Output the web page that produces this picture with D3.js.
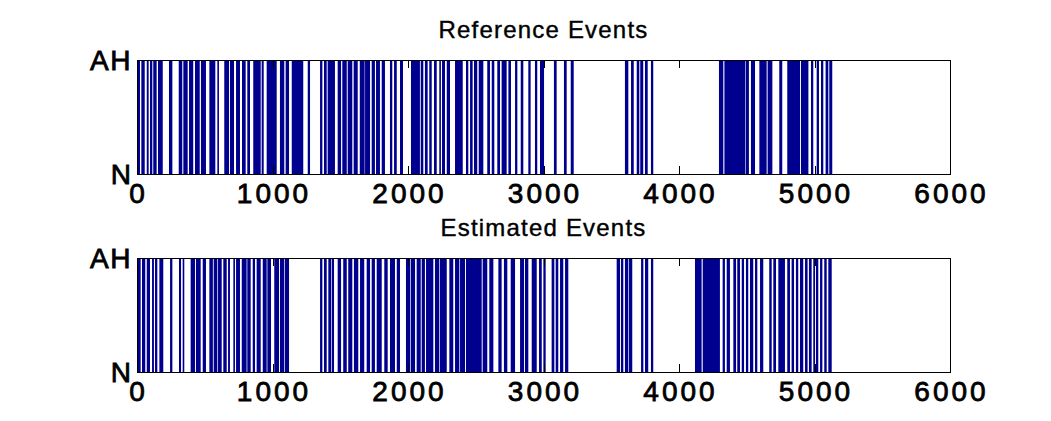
<!DOCTYPE html>
<html><head><meta charset="utf-8">
<script src="https://cdn.jsdelivr.net/npm/d3@7"></script>
<style>body{margin:0;background:#fff}svg{display:block}</style>
</head><body>
<script>
// Reference events: AH episodes [start, end] in samples
const refStart = [0,32,72,96,120,155,236,308,342,384,428,472,534,593,644,686,731,775,814,858,920,957,1055,1097,1142,1260,1351,1380,1407,1481,1515,1555,1599,1644,1683,1732,1764,1806,1867,1897,1941,2022,2094,2125,2157,2192,2231,2251,2286,2347,2428,2458,2487,2522,2585,2618,2659,2691,2741,2790,2832,2888,2937,2974,3077,3151,3201,3601,3646,3688,3714,3749,3793,4295,4335,4494,4531,4593,4654,4740,4799,4900,4974,5016,5048,5082,5109];
const refEnd   = [22,57,86,113,145,190,261,334,374,415,463,509,578,605,679,716,760,802,834,913,935,1031,1087,1122,1227,1277,1368,1400,1461,1506,1548,1589,1629,1680,1720,1756,1793,1830,1884,1917,1963,2088,2113,2145,2175,2212,2243,2273,2310,2404,2445,2477,2511,2556,2605,2637,2679,2728,2760,2807,2851,2905,2954,3004,3097,3171,3223,3626,3666,3707,3736,3769,3810,4327,4490,4516,4561,4647,4689,4762,4893,4955,4991,5033,5065,5102,5131];
// Estimated events
const estStart = [7,37,72,111,133,165,244,310,337,396,435,485,534,566,598,637,672,711,731,773,814,854,883,928,962,1013,1055,1090,1351,1380,1412,1437,1481,1522,1559,1601,1646,1695,1732,1769,1825,1867,1917,1985,2020,2064,2101,2133,2199,2236,2305,2347,2384,2428,2551,2600,2667,2708,2758,2827,2863,2913,2967,2999,3060,3090,3122,3159,3540,3572,3601,3631,3720,3749,3793,4118,4175,4322,4352,4401,4430,4463,4494,4524,4561,4598,4666,4696,4733,4799,4831,4863,4893,4930,4959,4991,5011,5041,5072,5102];
const estEnd   = [27,61,96,125,150,194,261,325,349,428,470,509,560,593,625,662,686,723,760,809,839,871,913,957,989,1048,1085,1122,1368,1400,1432,1454,1506,1548,1589,1633,1677,1720,1756,1806,1850,1904,1941,2015,2052,2094,2125,2187,2231,2286,2334,2379,2421,2544,2585,2630,2691,2733,2790,2856,2888,2950,2987,3016,3080,3109,3146,3183,3565,3589,3626,3655,3737,3773,3810,4167,4302,4339,4376,4421,4450,4480,4511,4548,4578,4622,4684,4716,4782,4819,4849,4880,4917,4949,4979,5004,5028,5058,5090,5127];

const xTicks = [0,1000,2000,3000,4000,5000,6000];
const yTickLabels = ["N","AH"];
const titles = ["Reference Events","Estimated Events"];

const W = 1051, H = 421;
const svg = d3.select("body").append("svg").attr("width",W).attr("height",H);
const blue = "#00008F";
const font = "Liberation Sans, Arial, sans-serif";

const panels = [
  {title: titles[0], s: refStart, e: refEnd, top: 60, bottom: 174},
  {title: titles[1], s: estStart, e: estEnd, top: 258, bottom: 372}
];

const x = d3.scaleLinear().domain([0,6000]).range([137,950]);

panels.forEach(p => {
  const y = d3.scaleLinear().domain([0,1]).range([p.bottom, p.top]);
  const g = svg.append("g");
  const data = p.s.map((s,i)=>({s, e: p.e[i]}));
  g.selectAll("rect.ev").data(data).join("rect")
    .attr("x", d => x(d.s))
    .attr("width", d => Math.max(1.5, x(d.e) - x(d.s)))
    .attr("y", y(1))
    .attr("height", y(0) - y(1))
    .attr("fill", blue);

  // box
  g.append("rect").attr("x", x(0)+0.5).attr("y", y(1)+0.5)
    .attr("width", x(6000)-x(0)).attr("height", y(0)-y(1))
    .attr("fill","none").attr("stroke","#000").attr("stroke-width",1);

  // x ticks inward (bottom and top)
  xTicks.forEach(t => {
    const xx = Math.round(x(t)) + 0.5;
    g.append("line").attr("x1",xx).attr("x2",xx).attr("y1",y(0)).attr("y2",y(0)-8).attr("stroke","#000");
    g.append("line").attr("x1",xx).attr("x2",xx).attr("y1",y(1)).attr("y2",y(1)+8).attr("stroke","#000");
    g.append("text").attr("x", x(t)+1.5).attr("y", y(0)+29)
      .attr("text-anchor","middle").attr("font-family",font).attr("font-size",28)
      .attr("letter-spacing",3).attr("stroke","#000").attr("stroke-width",0.8)
      .text(t);
  });
  // y tick labels
  [0,1].forEach((v,i) => {
    g.append("text").attr("x", i ? 132 : 131).attr("y", y(v)+10)
      .attr("text-anchor","end").attr("font-family",font).attr("font-size",28)
      .attr("letter-spacing", i ? 1.5 : 0).attr("stroke","#000").attr("stroke-width",0.8)
      .text(yTickLabels[i]);
  });
  g.append("text").attr("x", x(3000)).attr("y", p.top - 22)
    .attr("text-anchor","middle").attr("font-family",font).attr("font-size",24)
    .attr("letter-spacing",1.2).attr("stroke","#000").attr("stroke-width",0.4)
    .text(p.title);
});
</script>
</body></html>
